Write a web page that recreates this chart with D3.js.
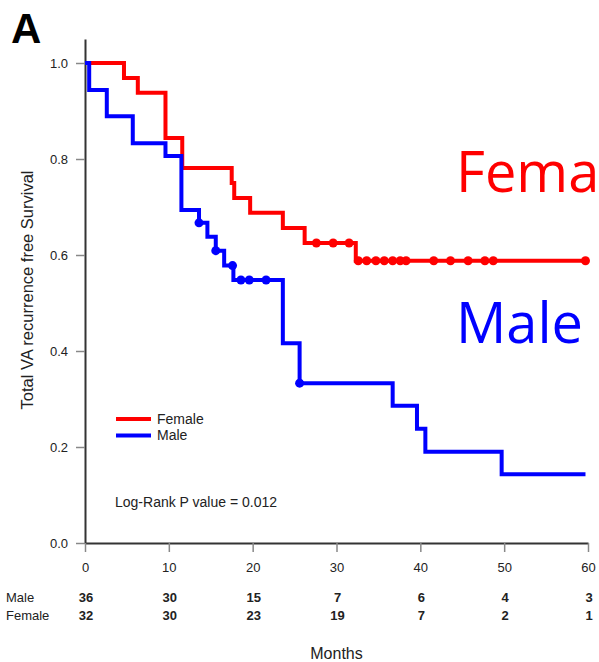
<!DOCTYPE html>
<html>
<head>
<meta charset="utf-8">
<script src="https://cdn.jsdelivr.net/npm/d3@7"></script>
<style>
  body { margin: 0; background: #fff; }
  svg { display: block; font-family: "Liberation Sans", Arial, sans-serif; }
</style>
</head>
<body>
<div id="chart"></div>
<script>
// months on the x axis and numbers at risk
const months = [0, 10, 20, 30, 40, 50, 60];
const maleAtRisk = [36, 30, 15, 7, 6, 4, 3];
const femaleAtRisk = [32, 30, 23, 19, 7, 2, 1];
const survTicks = [0, 0.2, 0.4, 0.6, 0.8, 1.0];

// Kaplan-Meier steps (time of drop, survival after drop)
const femaleTimes = [0, 4.65, 6.3, 9.6, 11.6, 17.5, 17.8, 19.7, 23.6, 26.2, 32.3, 59.7];
const femaleSurv = [1.0, 0.969, 0.938, 0.844, 0.781, 0.75, 0.719, 0.688, 0.656, 0.625, 0.588, 0.588];
const femaleCensored = [27.6, 29.6, 31.5, 32.6, 33.6, 34.7, 35.7, 36.7, 37.6, 38.3, 41.6, 43.6, 45.7, 47.7, 48.7, 59.7];

const maleTimes = [0, 0.5, 2.6, 5.7, 9.6, 11.5, 13.6, 14.6, 15.6, 16.6, 17.7, 23.6, 25.6, 36.7, 39.6, 40.6, 49.7, 59.7];
const maleSurv = [1.0, 0.944, 0.889, 0.833, 0.806, 0.694, 0.667, 0.638, 0.609, 0.578, 0.548, 0.416, 0.333, 0.286, 0.238, 0.190, 0.143, 0.143];
const maleCensored = [13.6, 15.6, 17.6, 18.6, 19.6, 21.6, 25.6];

const width = 599, height = 662;
const svg = d3.select('#chart').append('svg')
  .attr('width', width)
  .attr('height', height);

const x = d3.scaleLinear().domain([0, 60]).range([85, 588]);
const y = d3.scaleLinear().domain([0, 1.05]).range([543, 39]);

/* Axes */
const yAxis = svg.append('g')
  .attr('transform', 'translate(85,0)')
  .call(d3.axisLeft(y).tickValues(survTicks).tickSize(9).tickSizeOuter(0).tickPadding(8)
    .tickFormat(d3.format('.1f')));

const xAxis = svg.append('g')
  .attr('transform', 'translate(0,543)')
  .call(d3.axisBottom(x).tickValues(months).tickSize(9).tickSizeOuter(0).tickPadding(11));

[yAxis, xAxis].forEach(ax => {
  ax.select('.domain').attr('stroke', '#333').attr('stroke-width', 2);
  ax.selectAll('.tick line').attr('stroke', '#888').attr('stroke-width', 1.5);
  ax.selectAll('.tick text').attr('fill', '#222').style('font-size', '13px')
    .style('font-family', '"Liberation Sans", Arial, sans-serif');
});

/* Curves */
const curves = [
  { times: femaleTimes, surv: femaleSurv, cens: femaleCensored, color: '#ff0000' },
  { times: maleTimes, surv: maleSurv, cens: maleCensored, color: '#0000ff' }
];

const line = d3.line()
  .x(d => x(d[0]))
  .y(d => y(d[1]))
  .curve(d3.curveStepAfter);

const bis = d3.bisector(d => d).right;

curves.forEach(c => {
  const pts = c.times.map((t, i) => [t, c.surv[i]]);
  svg.append('path')
    .datum(pts)
    .attr('fill', 'none')
    .attr('stroke', c.color)
    .attr('stroke-width', 4)
    .attr('stroke-linejoin', 'miter')
    .attr('d', line);

  svg.append('g').selectAll('circle')
    .data(c.cens)
    .enter().append('circle')
    .attr('cx', d => x(d))
    .attr('cy', d => y(c.surv[Math.max(0, bis(c.times, d) - 1)]))
    .attr('r', 4.5)
    .attr('fill', c.color);
});

/* Legend */
const legendItems = [
  { label: 'Female', color: '#ff0000' },
  { label: 'Male', color: '#0000ff' }
];
const lg = svg.append('g').selectAll('g')
  .data(legendItems)
  .enter().append('g')
  .attr('transform', (d, i) => 'translate(116,' + (419 + i * 16.5) + ')');
lg.append('line')
  .attr('x1', 0).attr('x2', 35)
  .attr('stroke', d => d.color)
  .attr('stroke-width', 4);
lg.append('text')
  .attr('x', 41).attr('dy', '0.35em')
  .attr('fill', '#222')
  .style('font-size', '14px')
  .text(d => d.label);

svg.append('text')
  .attr('x', 115).attr('y', 506.5)
  .attr('fill', '#222')
  .style('font-size', '14px')
  .text('Log-Rank P value = 0.012');

/* Y axis label */
svg.append('text')
  .attr('transform', 'translate(32.5,290) rotate(-90)')
  .attr('text-anchor', 'middle')
  .attr('fill', '#222')
  .style('font-size', '16.5px')
  .text('Total VA recurrence free Survival');

/* Panel letter */
svg.append('text')
  .attr('x', 11).attr('y', 43)
  .attr('fill', '#000')
  .style('font-size', '42px')
  .style('font-weight', 'bold')
  .text('A');

/* Big group labels (the first one runs off the right edge, as in the original) */
svg.append('text')
  .attr('x', 456).attr('y', 192)
  .attr('fill', '#ff0000')
  .style('font-family', '"Open Sans", sans-serif')
  .style('font-size', '56px')
  .text('Female');
svg.append('text')
  .attr('x', 456).attr('y', 343)
  .attr('fill', '#0000ff')
  .style('font-family', '"Open Sans", sans-serif')
  .style('font-size', '56px')
  .text('Male');

/* Number at risk table */
const rows = [
  { label: 'Male', values: maleAtRisk, y: 602 },
  { label: 'Female', values: femaleAtRisk, y: 619.5 }
];
rows.forEach(r => {
  svg.append('text')
    .attr('x', 6).attr('y', r.y)
    .attr('fill', '#222')
    .style('font-size', '13px')
    .text(r.label);
  svg.append('g').selectAll('text')
    .data(r.values)
    .enter().append('text')
    .attr('x', (d, i) => x(months[i]) + 1)
    .attr('y', r.y)
    .attr('text-anchor', 'middle')
    .attr('fill', '#222')
    .style('font-size', '13px')
    .style('font-weight', 'bold')
    .text(d => d);
});

svg.append('text')
  .attr('x', 336.5).attr('y', 659)
  .attr('text-anchor', 'middle')
  .attr('fill', '#222')
  .style('font-size', '16px')
  .text('Months');
</script>
</body>
</html>
